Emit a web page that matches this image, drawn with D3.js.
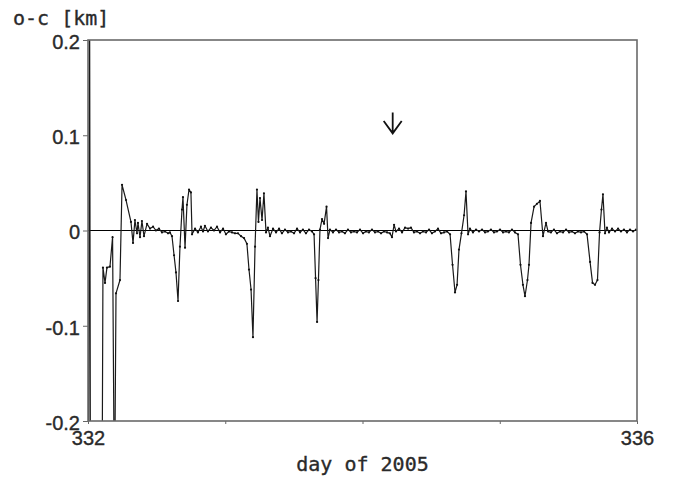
<!DOCTYPE html>
<html>
  <head>
    <meta http-equiv="Content-Type" content="text/html;charset=utf-8"/>
    <style type="text/css">

body {
  margin: 0;
  background: #fff;
}

svg {
  font-family: "DejaVu Sans Mono", monospace;
  font-size: 20px;
}

.label {
  fill: #2a2a2a;
  stroke: #2a2a2a;
  stroke-width: 0.35px;
}

.frame {
  fill: none;
  stroke: #6a6a6a;
  stroke-width: 1.6px;
}

.series {
  fill: none;
  stroke: #1a1a1a;
  stroke-width: 1.2px;
  stroke-linejoin: round;
}

.pt {
  fill: #111;
}

    </style>
  </head>
  <body>
    <svg></svg>

    <script type="text/javascript" src="https://cdn.jsdelivr.net/npm/d3@7"></script>

    <script type="text/javascript">

var days = [
  332.004, 332.011, 332.018, 332.102, 332.109, 332.124, 332.138, 332.160, 332.179, 332.193,
  332.204, 332.233, 332.248, 332.277, 332.313, 332.328, 332.342, 332.357, 332.364, 332.379,
  332.393, 332.408, 332.430, 332.452, 332.474, 332.495, 332.517, 332.539, 332.561, 332.583,
  332.597, 332.612, 332.627, 332.641, 332.656, 332.670, 332.685, 332.692, 332.707, 332.721,
  332.736, 332.750, 332.758, 332.780, 332.801, 332.823, 332.838, 332.852, 332.874, 332.896,
  332.918, 332.940, 332.962, 332.984, 333.005, 333.027, 333.049, 333.071, 333.093, 333.115,
  333.137, 333.158, 333.173, 333.188, 333.202, 333.217, 333.231, 333.242, 333.253, 333.268,
  333.282, 333.297, 333.311, 333.326, 333.348, 333.370, 333.392, 333.413, 333.435, 333.457,
  333.479, 333.501, 333.523, 333.545, 333.566, 333.588, 333.610, 333.632, 333.647, 333.658,
  333.669, 333.679, 333.690, 333.705, 333.720, 333.738, 333.749, 333.763, 333.785, 333.807,
  333.829, 333.851, 333.872, 333.894, 333.916, 333.938, 333.960, 333.982, 334.004, 334.025,
  334.047, 334.069, 334.091, 334.113, 334.135, 334.157, 334.179, 334.200, 334.215, 334.230,
  334.244, 334.266, 334.288, 334.310, 334.332, 334.353, 334.375, 334.397, 334.419, 334.441,
  334.463, 334.485, 334.506, 334.528, 334.550, 334.572, 334.594, 334.616, 334.638, 334.656,
  334.674, 334.689, 334.703, 334.721, 334.740, 334.754, 334.769, 334.783, 334.805, 334.827,
  334.849, 334.871, 334.893, 334.914, 334.936, 334.958, 334.980, 335.002, 335.024, 335.046,
  335.067, 335.089, 335.111, 335.133, 335.151, 335.169, 335.184, 335.202, 335.213, 335.228,
  335.250, 335.271, 335.293, 335.315, 335.337, 335.352, 335.373, 335.395, 335.417, 335.439,
  335.461, 335.483, 335.505, 335.526, 335.548, 335.570, 335.592, 335.614, 335.636, 335.658,
  335.676, 335.694, 335.712, 335.727, 335.741, 335.752, 335.767, 335.781, 335.796, 335.818,
  335.840, 335.862, 335.883, 335.905, 335.927, 335.949, 335.971, 335.993
];

var oc = [
  -0.300, 0.300, -0.300, -0.300, -0.039, -0.055, -0.039, -0.038, -0.007, -0.300,
  -0.066, -0.052, 0.048, 0.032, 0.009, -0.013, 0.011, -0.003, 0.008, -0.007,
  0.010, -0.006, 0.007, 0.002, 0.004, 0.000, 0.002, -0.002, -0.001, -0.003,
  -0.002, -0.006, -0.026, -0.044, -0.074, -0.017, 0.022, 0.035, -0.018, 0.027,
  0.043, 0.040, -0.004, 0.002, -0.002, 0.004, -0.001, 0.005, -0.001, 0.003,
  0.000, 0.004, -0.002, 0.002, -0.004, -0.001, -0.002, -0.003, -0.003, -0.006,
  -0.008, -0.014, -0.041, -0.062, -0.112, -0.017, 0.043, 0.009, 0.034, 0.011,
  0.039, -0.002, 0.003, -0.006, 0.002, -0.002, 0.002, -0.003, 0.001, -0.002,
  -0.001, -0.003, 0.002, -0.002, 0.001, -0.003, 0.001, -0.001, -0.004, -0.050,
  -0.096, -0.052, 0.001, 0.012, 0.007, 0.025, -0.008, 0.001, -0.002, 0.001,
  -0.002, -0.001, -0.003, 0.001, -0.002, -0.001, -0.002, 0.001, -0.003, -0.001,
  -0.002, 0.001, -0.002, -0.001, -0.003, -0.001, -0.002, -0.003, -0.007, 0.006,
  -0.001, 0.002, -0.002, 0.003, 0.002, 0.003, -0.002, -0.001, -0.003, -0.001,
  -0.002, 0.001, -0.003, -0.001, 0.002, -0.003, -0.002, -0.001, -0.004, -0.036,
  -0.065, -0.057, -0.020, -0.003, 0.016, 0.041, -0.004, 0.002, -0.002, 0.001,
  -0.001, 0.001, -0.002, -0.001, 0.001, -0.002, -0.001, 0.001, -0.002, -0.001,
  -0.002, 0.001, -0.002, -0.004, -0.036, -0.057, -0.069, -0.052, -0.036, 0.008,
  0.025, 0.028, 0.031, -0.006, 0.008, -0.001, -0.002, 0.001, -0.003, -0.001,
  -0.002, 0.001, -0.002, -0.001, -0.003, -0.001, -0.002, -0.001, -0.004, -0.033,
  -0.055, -0.057, -0.052, -0.002, 0.022, 0.038, -0.003, 0.003, -0.002, 0.002,
  -0.001, 0.002, -0.001, 0.001, -0.002, 0.001, -0.001, 0.001
];

var yTicks = [0.2, 0.1, 0, -0.1, -0.2];
var yTickLabels = ["0.2", "0.1", "0", "-0.1", "-0.2"];
var xTicks = [332, 333, 334, 335, 336];
var xTickLabels = ["332", "", "", "", "336"];
var markDay = 334.22;

var W = 675, H = 477,
    m = {top: 40, right: 38, bottom: 56, left: 88},
    w = W - m.left - m.right,
    h = H - m.top - m.bottom;

var svg = d3.select("svg")
    .attr("width", W)
    .attr("height", H);

var x = d3.scaleLinear().domain([332, 336]).range([0, w]);
var y = d3.scaleLinear().domain([-0.2, 0.2]).range([h, 0]);

var g = svg.append("g")
    .attr("transform", "translate(" + m.left + "," + m.top + ")");

g.append("clipPath")
    .attr("id", "plot-clip")
  .append("rect")
    .attr("width", w)
    .attr("height", h);

// axes
var yAxis = d3.axisLeft(y)
    .tickValues(yTicks)
    .tickSize(5)
    .tickPadding(3)
    .tickFormat(function(d, i) { return yTickLabels[i]; });

var xAxis = d3.axisBottom(x)
    .tickValues(xTicks)
    .tickSize(3)
    .tickPadding(4)
    .tickFormat(function(d, i) { return xTickLabels[i]; });

g.append("g")
    .call(yAxis)
    .call(function(a) { a.select(".domain").remove(); })
    .call(function(a) { a.selectAll("line").attr("stroke", "#666"); })
    .call(function(a) {
      a.selectAll("text").attr("class", "label").attr("dy", "0.42em").attr("font-size", 20);
    });

g.append("g")
    .attr("transform", "translate(0," + h + ")")
    .call(xAxis)
    .call(function(a) { a.select(".domain").remove(); })
    .call(function(a) { a.selectAll("line").attr("stroke", "#666"); })
    .call(function(a) {
      a.selectAll("text").attr("class", "label").attr("dy", "0.85em").attr("font-size", 20);
    });

// zero line
g.append("line")
    .attr("x1", 0)
    .attr("x2", w)
    .attr("y1", y(0))
    .attr("y2", y(0))
    .attr("stroke", "#000")
    .attr("stroke-width", 1.2);

// series
var pts = days.map(function(d, i) { return [d, oc[i]]; });

var line = d3.line()
    .x(function(d) { return x(d[0]); })
    .y(function(d) { return y(d[1]); });

var plot = g.append("g")
    .attr("clip-path", "url(#plot-clip)");

plot.append("path")
    .attr("class", "series")
    .attr("d", line(pts));

plot.selectAll("circle")
    .data(pts)
  .enter().append("circle")
    .attr("class", "pt")
    .attr("cx", function(d) { return x(d[0]); })
    .attr("cy", function(d) { return y(d[1]); })
    .attr("r", 1.1);

// frame
g.append("rect")
    .attr("class", "frame")
    .attr("width", w)
    .attr("height", h);

// arrow marker
var ax = x(markDay);
g.append("path")
    .attr("d", "M" + ax + "," + y(0.124) + "V" + y(0.103) +
               "M" + (ax - 9) + "," + y(0.115) + "L" + ax + "," + y(0.102) +
               "L" + (ax + 9) + "," + y(0.115))
    .attr("fill", "none")
    .attr("stroke", "#111")
    .attr("stroke-width", 1.8);

// titles
svg.append("text")
    .attr("class", "label")
    .attr("x", 13)
    .attr("y", 25)
    .attr("font-size", 20)
    .text("o-c [km]");

svg.append("text")
    .attr("class", "label")
    .attr("x", m.left + w / 2)
    .attr("y", 471)
    .attr("text-anchor", "middle")
    .attr("font-size", 20)
    .text("day of 2005");

    </script>
  </body>
</html>
